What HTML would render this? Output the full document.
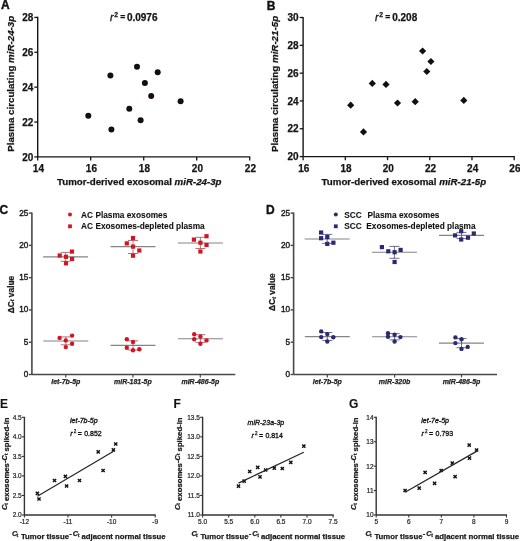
<!DOCTYPE html>
<html><head><meta charset="utf-8"><style>
html,body{margin:0;padding:0;background:#fff;}
svg{display:block;font-family:"Liberation Sans", sans-serif;filter:blur(0.3px);}
</style></head><body>
<svg width="520" height="541" viewBox="0 0 520 541">
<rect width="520" height="541" fill="#fff"/>
<text x="1.00" y="9.40" font-size="12" font-weight="bold" font-style="normal" text-anchor="start" fill="#111" stroke="#111" stroke-width="0.4">A</text>
<line x1="37.70" y1="16.80" x2="37.70" y2="156.90" stroke="#141414" stroke-width="1.4"/>
<line x1="37.70" y1="156.90" x2="250.30" y2="156.90" stroke="#141414" stroke-width="1.4"/>
<line x1="34.30" y1="156.90" x2="37.70" y2="156.90" stroke="#141414" stroke-width="1.3"/>
<text x="33.30" y="160.50" font-size="10" font-weight="bold" font-style="normal" text-anchor="end" fill="#141414" stroke="#141414" stroke-width="0.25">20</text>
<line x1="34.30" y1="122.03" x2="37.70" y2="122.03" stroke="#141414" stroke-width="1.3"/>
<text x="33.30" y="125.62" font-size="10" font-weight="bold" font-style="normal" text-anchor="end" fill="#141414" stroke="#141414" stroke-width="0.25">22</text>
<line x1="34.30" y1="87.15" x2="37.70" y2="87.15" stroke="#141414" stroke-width="1.3"/>
<text x="33.30" y="90.75" font-size="10" font-weight="bold" font-style="normal" text-anchor="end" fill="#141414" stroke="#141414" stroke-width="0.25">24</text>
<line x1="34.30" y1="52.28" x2="37.70" y2="52.28" stroke="#141414" stroke-width="1.3"/>
<text x="33.30" y="55.88" font-size="10" font-weight="bold" font-style="normal" text-anchor="end" fill="#141414" stroke="#141414" stroke-width="0.25">26</text>
<line x1="34.30" y1="17.40" x2="37.70" y2="17.40" stroke="#141414" stroke-width="1.3"/>
<text x="33.30" y="21.00" font-size="10" font-weight="bold" font-style="normal" text-anchor="end" fill="#141414" stroke="#141414" stroke-width="0.25">28</text>
<line x1="37.70" y1="156.90" x2="37.70" y2="160.40" stroke="#141414" stroke-width="1.3"/>
<text x="38.40" y="172.00" font-size="10" font-weight="bold" font-style="normal" text-anchor="middle" fill="#141414" stroke="#141414" stroke-width="0.25">14</text>
<line x1="90.70" y1="156.90" x2="90.70" y2="160.40" stroke="#141414" stroke-width="1.3"/>
<text x="91.40" y="172.00" font-size="10" font-weight="bold" font-style="normal" text-anchor="middle" fill="#141414" stroke="#141414" stroke-width="0.25">16</text>
<line x1="143.70" y1="156.90" x2="143.70" y2="160.40" stroke="#141414" stroke-width="1.3"/>
<text x="144.40" y="172.00" font-size="10" font-weight="bold" font-style="normal" text-anchor="middle" fill="#141414" stroke="#141414" stroke-width="0.25">18</text>
<line x1="196.70" y1="156.90" x2="196.70" y2="160.40" stroke="#141414" stroke-width="1.3"/>
<text x="197.40" y="172.00" font-size="10" font-weight="bold" font-style="normal" text-anchor="middle" fill="#141414" stroke="#141414" stroke-width="0.25">20</text>
<line x1="249.70" y1="156.90" x2="249.70" y2="160.40" stroke="#141414" stroke-width="1.3"/>
<text x="250.40" y="172.00" font-size="10" font-weight="bold" font-style="normal" text-anchor="middle" fill="#141414" stroke="#141414" stroke-width="0.25">22</text>
<text x="57.00" y="185.00" font-size="9.72" font-weight="bold" font-style="normal" text-anchor="start" fill="#141414" stroke="#141414" stroke-width="0.25">Tumor-derived exosomal <tspan font-style="italic">miR-24-3p</tspan></text>
<text x="13.60" y="83.80" font-size="9.75" font-weight="bold" font-style="normal" text-anchor="middle" fill="#141414" transform="rotate(-90 13.60 83.80)" stroke="#141414" stroke-width="0.25">Plasma circulating <tspan font-style="italic">miR-24-3p</tspan></text>
<text x="109.90" y="20.60" font-size="10.5" font-weight="normal" font-style="italic" text-anchor="start" fill="#141414" stroke="#141414" stroke-width="0.3">r</text>
<text x="114.20" y="16.70" font-size="6.8" font-weight="bold" font-style="normal" text-anchor="start" fill="#141414" stroke="#141414" stroke-width="0.25">2</text>
<text x="120.30" y="20.20" font-size="8.6" font-weight="bold" font-style="normal" text-anchor="start" fill="#141414" stroke="#141414" stroke-width="0.25">=</text>
<text x="126.90" y="20.60" font-size="10" font-weight="bold" font-style="normal" text-anchor="start" fill="#141414" stroke="#141414" stroke-width="0.25">0.0976</text>
<circle cx="88.30" cy="115.70" r="3.0" fill="#160d0e"/>
<circle cx="110.40" cy="75.60" r="3.0" fill="#160d0e"/>
<circle cx="111.40" cy="129.60" r="3.0" fill="#160d0e"/>
<circle cx="129.30" cy="108.80" r="3.0" fill="#160d0e"/>
<circle cx="137.00" cy="66.80" r="3.0" fill="#160d0e"/>
<circle cx="140.60" cy="120.20" r="3.0" fill="#160d0e"/>
<circle cx="144.90" cy="83.00" r="3.0" fill="#160d0e"/>
<circle cx="151.20" cy="96.00" r="3.0" fill="#160d0e"/>
<circle cx="157.70" cy="72.20" r="3.0" fill="#160d0e"/>
<circle cx="180.60" cy="101.20" r="3.0" fill="#160d0e"/>
<text x="266.80" y="9.60" font-size="12" font-weight="bold" font-style="normal" text-anchor="start" fill="#111" stroke="#111" stroke-width="0.4">B</text>
<line x1="303.10" y1="16.90" x2="303.10" y2="156.60" stroke="#141414" stroke-width="1.4"/>
<line x1="303.10" y1="156.60" x2="514.80" y2="156.60" stroke="#141414" stroke-width="1.4"/>
<line x1="299.70" y1="156.60" x2="303.10" y2="156.60" stroke="#141414" stroke-width="1.3"/>
<text x="298.70" y="160.20" font-size="10" font-weight="bold" font-style="normal" text-anchor="end" fill="#141414" stroke="#141414" stroke-width="0.25">20</text>
<line x1="299.70" y1="128.78" x2="303.10" y2="128.78" stroke="#141414" stroke-width="1.3"/>
<text x="298.70" y="132.38" font-size="10" font-weight="bold" font-style="normal" text-anchor="end" fill="#141414" stroke="#141414" stroke-width="0.25">22</text>
<line x1="299.70" y1="100.96" x2="303.10" y2="100.96" stroke="#141414" stroke-width="1.3"/>
<text x="298.70" y="104.56" font-size="10" font-weight="bold" font-style="normal" text-anchor="end" fill="#141414" stroke="#141414" stroke-width="0.25">24</text>
<line x1="299.70" y1="73.14" x2="303.10" y2="73.14" stroke="#141414" stroke-width="1.3"/>
<text x="298.70" y="76.74" font-size="10" font-weight="bold" font-style="normal" text-anchor="end" fill="#141414" stroke="#141414" stroke-width="0.25">26</text>
<line x1="299.70" y1="45.32" x2="303.10" y2="45.32" stroke="#141414" stroke-width="1.3"/>
<text x="298.70" y="48.92" font-size="10" font-weight="bold" font-style="normal" text-anchor="end" fill="#141414" stroke="#141414" stroke-width="0.25">28</text>
<line x1="299.70" y1="17.50" x2="303.10" y2="17.50" stroke="#141414" stroke-width="1.3"/>
<text x="298.70" y="21.10" font-size="10" font-weight="bold" font-style="normal" text-anchor="end" fill="#141414" stroke="#141414" stroke-width="0.25">30</text>
<line x1="303.10" y1="156.60" x2="303.10" y2="160.20" stroke="#141414" stroke-width="1.3"/>
<text x="303.80" y="172.00" font-size="10" font-weight="bold" font-style="normal" text-anchor="middle" fill="#141414" stroke="#141414" stroke-width="0.25">16</text>
<line x1="345.32" y1="156.60" x2="345.32" y2="160.20" stroke="#141414" stroke-width="1.3"/>
<text x="346.02" y="172.00" font-size="10" font-weight="bold" font-style="normal" text-anchor="middle" fill="#141414" stroke="#141414" stroke-width="0.25">18</text>
<line x1="387.54" y1="156.60" x2="387.54" y2="160.20" stroke="#141414" stroke-width="1.3"/>
<text x="388.24" y="172.00" font-size="10" font-weight="bold" font-style="normal" text-anchor="middle" fill="#141414" stroke="#141414" stroke-width="0.25">20</text>
<line x1="429.76" y1="156.60" x2="429.76" y2="160.20" stroke="#141414" stroke-width="1.3"/>
<text x="430.46" y="172.00" font-size="10" font-weight="bold" font-style="normal" text-anchor="middle" fill="#141414" stroke="#141414" stroke-width="0.25">22</text>
<line x1="471.98" y1="156.60" x2="471.98" y2="160.20" stroke="#141414" stroke-width="1.3"/>
<text x="472.68" y="172.00" font-size="10" font-weight="bold" font-style="normal" text-anchor="middle" fill="#141414" stroke="#141414" stroke-width="0.25">24</text>
<line x1="514.20" y1="156.60" x2="514.20" y2="160.20" stroke="#141414" stroke-width="1.3"/>
<text x="514.90" y="172.00" font-size="10" font-weight="bold" font-style="normal" text-anchor="middle" fill="#141414" stroke="#141414" stroke-width="0.25">26</text>
<text x="321.60" y="185.00" font-size="9.72" font-weight="bold" font-style="normal" text-anchor="start" fill="#141414" stroke="#141414" stroke-width="0.25">Tumor-derived exosomal <tspan font-style="italic">miR-21-5p</tspan></text>
<text x="277.80" y="83.90" font-size="9.75" font-weight="bold" font-style="normal" text-anchor="middle" fill="#141414" transform="rotate(-90 277.80 83.90)" stroke="#141414" stroke-width="0.25">Plasma circulating <tspan font-style="italic">miR-21-5p</tspan></text>
<text x="374.90" y="20.60" font-size="10.5" font-weight="normal" font-style="italic" text-anchor="start" fill="#141414" stroke="#141414" stroke-width="0.3">r</text>
<text x="379.20" y="16.70" font-size="6.8" font-weight="bold" font-style="normal" text-anchor="start" fill="#141414" stroke="#141414" stroke-width="0.25">2</text>
<text x="385.30" y="20.20" font-size="8.6" font-weight="bold" font-style="normal" text-anchor="start" fill="#141414" stroke="#141414" stroke-width="0.25">=</text>
<text x="392.20" y="20.60" font-size="10" font-weight="bold" font-style="normal" text-anchor="start" fill="#141414" stroke="#141414" stroke-width="0.25">0.208</text>
<path d="M350.70 101.60L354.30 105.20L350.70 108.80L347.10 105.20Z" fill="#111"/>
<path d="M363.50 128.30L367.10 131.90L363.50 135.50L359.90 131.90Z" fill="#111"/>
<path d="M372.30 79.80L375.90 83.40L372.30 87.00L368.70 83.40Z" fill="#111"/>
<path d="M386.00 80.80L389.60 84.40L386.00 88.00L382.40 84.40Z" fill="#111"/>
<path d="M397.50 99.40L401.10 103.00L397.50 106.60L393.90 103.00Z" fill="#111"/>
<path d="M415.20 98.10L418.80 101.70L415.20 105.30L411.60 101.70Z" fill="#111"/>
<path d="M422.60 47.40L426.20 51.00L422.60 54.60L419.00 51.00Z" fill="#111"/>
<path d="M426.80 67.90L430.40 71.50L426.80 75.10L423.20 71.50Z" fill="#111"/>
<path d="M430.90 57.90L434.50 61.50L430.90 65.10L427.30 61.50Z" fill="#111"/>
<path d="M463.80 96.80L467.40 100.40L463.80 104.00L460.20 100.40Z" fill="#111"/>
<text x="-0.50" y="213.90" font-size="12" font-weight="bold" font-style="normal" text-anchor="start" fill="#111" stroke="#111" stroke-width="0.35">C</text>
<line x1="31.90" y1="212.50" x2="31.90" y2="374.50" stroke="#474747" stroke-width="1.6"/>
<line x1="31.90" y1="374.50" x2="235.30" y2="374.50" stroke="#474747" stroke-width="1.6"/>
<line x1="28.90" y1="374.50" x2="31.90" y2="374.50" stroke="#474747" stroke-width="1.4"/>
<text x="28.30" y="377.00" font-size="8.2" font-weight="normal" font-style="normal" text-anchor="end" fill="#1a1a1a" stroke="#1a1a1a" stroke-width="0.4">0</text>
<line x1="28.90" y1="342.22" x2="31.90" y2="342.22" stroke="#474747" stroke-width="1.4"/>
<text x="28.30" y="344.72" font-size="8.2" font-weight="normal" font-style="normal" text-anchor="end" fill="#1a1a1a" stroke="#1a1a1a" stroke-width="0.4">5</text>
<line x1="28.90" y1="309.94" x2="31.90" y2="309.94" stroke="#474747" stroke-width="1.4"/>
<text x="28.30" y="312.44" font-size="8.2" font-weight="normal" font-style="normal" text-anchor="end" fill="#1a1a1a" stroke="#1a1a1a" stroke-width="0.4">10</text>
<line x1="28.90" y1="277.66" x2="31.90" y2="277.66" stroke="#474747" stroke-width="1.4"/>
<text x="28.30" y="280.16" font-size="8.2" font-weight="normal" font-style="normal" text-anchor="end" fill="#1a1a1a" stroke="#1a1a1a" stroke-width="0.4">15</text>
<line x1="28.90" y1="245.38" x2="31.90" y2="245.38" stroke="#474747" stroke-width="1.4"/>
<text x="28.30" y="247.88" font-size="8.2" font-weight="normal" font-style="normal" text-anchor="end" fill="#1a1a1a" stroke="#1a1a1a" stroke-width="0.4">20</text>
<line x1="28.90" y1="213.10" x2="31.90" y2="213.10" stroke="#474747" stroke-width="1.4"/>
<text x="28.30" y="215.60" font-size="8.2" font-weight="normal" font-style="normal" text-anchor="end" fill="#1a1a1a" stroke="#1a1a1a" stroke-width="0.4">25</text>
<line x1="65.80" y1="374.50" x2="65.80" y2="377.40" stroke="#474747" stroke-width="1.2"/>
<text x="65.80" y="384.30" font-size="7" font-weight="bold" font-style="italic" text-anchor="middle" fill="#222" stroke="#222" stroke-width="0.25">let-7b-5p</text>
<line x1="132.90" y1="374.50" x2="132.90" y2="377.40" stroke="#474747" stroke-width="1.2"/>
<text x="132.90" y="384.30" font-size="7" font-weight="bold" font-style="italic" text-anchor="middle" fill="#222" stroke="#222" stroke-width="0.25">miR-181-5p</text>
<line x1="200.30" y1="374.50" x2="200.30" y2="377.40" stroke="#474747" stroke-width="1.2"/>
<text x="200.30" y="384.30" font-size="7" font-weight="bold" font-style="italic" text-anchor="middle" fill="#222" stroke="#222" stroke-width="0.25">miR-486-5p</text>
<text x="13.50" y="294.50" font-size="8.4" font-weight="bold" font-style="normal" text-anchor="middle" fill="#1a1a1a" transform="rotate(-90 13.50 294.50)" stroke="#1a1a1a" stroke-width="0.25">ΔC<tspan font-style="italic" font-size="5.2" dy="0.8">t</tspan><tspan dy="-0.8"> value</tspan></text>
<circle cx="70.00" cy="214.50" r="2.0" fill="#d41420"/>
<rect x="68.10" y="224.40" width="3.8" height="3.8" fill="#d41420"/>
<text x="81.10" y="217.50" font-size="8.3" font-weight="bold" font-style="normal" text-anchor="start" fill="#111" stroke="#111" stroke-width="0.08">AC Plasma exosomes</text>
<text x="81.10" y="229.00" font-size="8.3" font-weight="bold" font-style="normal" text-anchor="start" fill="#111" stroke="#111" stroke-width="0.08">AC Exosomes-depleted plasma</text>
<line x1="43.10" y1="256.90" x2="88.10" y2="256.90" stroke="#848484" stroke-width="1.1"/>
<line x1="65.60" y1="252.40" x2="65.60" y2="261.30" stroke="#a0505a" stroke-width="0.8"/>
<line x1="60.60" y1="252.40" x2="70.60" y2="252.40" stroke="#a0505a" stroke-width="0.8"/>
<line x1="60.60" y1="261.30" x2="70.60" y2="261.30" stroke="#a0505a" stroke-width="0.8"/>
<rect x="57.60" y="253.40" width="4.2" height="4.2" fill="#d41420"/>
<rect x="63.90" y="254.70" width="4.2" height="4.2" fill="#d41420"/>
<rect x="69.90" y="249.50" width="4.2" height="4.2" fill="#d41420"/>
<rect x="70.00" y="256.80" width="4.2" height="4.2" fill="#d41420"/>
<rect x="63.90" y="261.20" width="4.2" height="4.2" fill="#d41420"/>
<line x1="110.50" y1="246.60" x2="155.50" y2="246.60" stroke="#848484" stroke-width="1.1"/>
<line x1="133.00" y1="240.50" x2="133.00" y2="253.50" stroke="#a0505a" stroke-width="0.8"/>
<line x1="128.00" y1="240.50" x2="138.00" y2="240.50" stroke="#a0505a" stroke-width="0.8"/>
<line x1="128.00" y1="253.50" x2="138.00" y2="253.50" stroke="#a0505a" stroke-width="0.8"/>
<rect x="124.70" y="241.30" width="4.2" height="4.2" fill="#d41420"/>
<rect x="130.90" y="235.90" width="4.2" height="4.2" fill="#d41420"/>
<rect x="130.90" y="244.50" width="4.2" height="4.2" fill="#d41420"/>
<rect x="137.20" y="248.40" width="4.2" height="4.2" fill="#d41420"/>
<rect x="130.90" y="253.60" width="4.2" height="4.2" fill="#d41420"/>
<line x1="177.90" y1="243.00" x2="222.90" y2="243.00" stroke="#848484" stroke-width="1.1"/>
<line x1="200.40" y1="237.30" x2="200.40" y2="248.50" stroke="#a0505a" stroke-width="0.8"/>
<line x1="195.40" y1="237.30" x2="205.40" y2="237.30" stroke="#a0505a" stroke-width="0.8"/>
<line x1="195.40" y1="248.50" x2="205.40" y2="248.50" stroke="#a0505a" stroke-width="0.8"/>
<rect x="191.80" y="237.50" width="4.2" height="4.2" fill="#d41420"/>
<rect x="198.30" y="240.60" width="4.2" height="4.2" fill="#d41420"/>
<rect x="204.40" y="234.10" width="4.2" height="4.2" fill="#d41420"/>
<rect x="204.40" y="242.90" width="4.2" height="4.2" fill="#d41420"/>
<rect x="198.30" y="249.40" width="4.2" height="4.2" fill="#d41420"/>
<line x1="43.30" y1="341.00" x2="88.30" y2="341.00" stroke="#848484" stroke-width="1.1"/>
<line x1="65.80" y1="336.90" x2="65.80" y2="344.80" stroke="#a0505a" stroke-width="0.8"/>
<line x1="60.80" y1="336.90" x2="70.80" y2="336.90" stroke="#a0505a" stroke-width="0.8"/>
<line x1="60.80" y1="344.80" x2="70.80" y2="344.80" stroke="#a0505a" stroke-width="0.8"/>
<circle cx="59.60" cy="337.90" r="2.2" fill="#d41420"/>
<circle cx="65.80" cy="340.40" r="2.2" fill="#d41420"/>
<circle cx="72.10" cy="335.60" r="2.2" fill="#d41420"/>
<circle cx="72.10" cy="343.70" r="2.2" fill="#d41420"/>
<circle cx="65.80" cy="347.10" r="2.2" fill="#d41420"/>
<line x1="110.50" y1="345.40" x2="155.50" y2="345.40" stroke="#848484" stroke-width="1.1"/>
<line x1="133.00" y1="340.80" x2="133.00" y2="350.00" stroke="#a0505a" stroke-width="0.8"/>
<line x1="128.00" y1="340.80" x2="138.00" y2="340.80" stroke="#a0505a" stroke-width="0.8"/>
<line x1="128.00" y1="350.00" x2="138.00" y2="350.00" stroke="#a0505a" stroke-width="0.8"/>
<circle cx="126.80" cy="339.20" r="2.2" fill="#d41420"/>
<circle cx="133.00" cy="342.00" r="2.2" fill="#d41420"/>
<circle cx="126.80" cy="347.70" r="2.2" fill="#d41420"/>
<circle cx="133.00" cy="350.30" r="2.2" fill="#d41420"/>
<circle cx="139.30" cy="349.20" r="2.2" fill="#d41420"/>
<line x1="177.90" y1="338.80" x2="222.90" y2="338.80" stroke="#848484" stroke-width="1.1"/>
<line x1="200.40" y1="334.70" x2="200.40" y2="342.40" stroke="#a0505a" stroke-width="0.8"/>
<line x1="195.40" y1="334.70" x2="205.40" y2="334.70" stroke="#a0505a" stroke-width="0.8"/>
<line x1="195.40" y1="342.40" x2="205.40" y2="342.40" stroke="#a0505a" stroke-width="0.8"/>
<circle cx="194.20" cy="334.20" r="2.2" fill="#d41420"/>
<circle cx="200.40" cy="336.50" r="2.2" fill="#d41420"/>
<circle cx="194.20" cy="339.20" r="2.2" fill="#d41420"/>
<circle cx="206.50" cy="340.40" r="2.2" fill="#d41420"/>
<circle cx="200.40" cy="343.80" r="2.2" fill="#d41420"/>
<text x="266.10" y="213.90" font-size="12" font-weight="bold" font-style="normal" text-anchor="start" fill="#111" stroke="#111" stroke-width="0.35">D</text>
<line x1="293.60" y1="212.50" x2="293.60" y2="374.50" stroke="#474747" stroke-width="1.6"/>
<line x1="293.60" y1="374.50" x2="497.00" y2="374.50" stroke="#474747" stroke-width="1.6"/>
<line x1="290.60" y1="374.50" x2="293.60" y2="374.50" stroke="#474747" stroke-width="1.4"/>
<text x="290.00" y="377.00" font-size="8.2" font-weight="normal" font-style="normal" text-anchor="end" fill="#1a1a1a" stroke="#1a1a1a" stroke-width="0.4">0</text>
<line x1="290.60" y1="342.22" x2="293.60" y2="342.22" stroke="#474747" stroke-width="1.4"/>
<text x="290.00" y="344.72" font-size="8.2" font-weight="normal" font-style="normal" text-anchor="end" fill="#1a1a1a" stroke="#1a1a1a" stroke-width="0.4">5</text>
<line x1="290.60" y1="309.94" x2="293.60" y2="309.94" stroke="#474747" stroke-width="1.4"/>
<text x="290.00" y="312.44" font-size="8.2" font-weight="normal" font-style="normal" text-anchor="end" fill="#1a1a1a" stroke="#1a1a1a" stroke-width="0.4">10</text>
<line x1="290.60" y1="277.66" x2="293.60" y2="277.66" stroke="#474747" stroke-width="1.4"/>
<text x="290.00" y="280.16" font-size="8.2" font-weight="normal" font-style="normal" text-anchor="end" fill="#1a1a1a" stroke="#1a1a1a" stroke-width="0.4">15</text>
<line x1="290.60" y1="245.38" x2="293.60" y2="245.38" stroke="#474747" stroke-width="1.4"/>
<text x="290.00" y="247.88" font-size="8.2" font-weight="normal" font-style="normal" text-anchor="end" fill="#1a1a1a" stroke="#1a1a1a" stroke-width="0.4">20</text>
<line x1="290.60" y1="213.10" x2="293.60" y2="213.10" stroke="#474747" stroke-width="1.4"/>
<text x="290.00" y="215.60" font-size="8.2" font-weight="normal" font-style="normal" text-anchor="end" fill="#1a1a1a" stroke="#1a1a1a" stroke-width="0.4">25</text>
<line x1="327.30" y1="374.50" x2="327.30" y2="377.40" stroke="#474747" stroke-width="1.2"/>
<text x="327.30" y="384.30" font-size="7" font-weight="bold" font-style="italic" text-anchor="middle" fill="#222" stroke="#222" stroke-width="0.25">let-7b-5p</text>
<line x1="394.60" y1="374.50" x2="394.60" y2="377.40" stroke="#474747" stroke-width="1.2"/>
<text x="394.60" y="384.30" font-size="7" font-weight="bold" font-style="italic" text-anchor="middle" fill="#222" stroke="#222" stroke-width="0.25">miR-320b</text>
<line x1="461.50" y1="374.50" x2="461.50" y2="377.40" stroke="#474747" stroke-width="1.2"/>
<text x="461.50" y="384.30" font-size="7" font-weight="bold" font-style="italic" text-anchor="middle" fill="#222" stroke="#222" stroke-width="0.25">miR-486-5p</text>
<text x="275.20" y="292.10" font-size="8.4" font-weight="bold" font-style="normal" text-anchor="middle" fill="#1a1a1a" transform="rotate(-90 275.20 292.10)" stroke="#1a1a1a" stroke-width="0.25">ΔC<tspan font-style="italic" font-size="5.2" dy="0.8">t</tspan><tspan dy="-0.8"> value</tspan></text>
<circle cx="335.80" cy="214.50" r="2.0" fill="#2b2972"/>
<rect x="333.90" y="224.40" width="3.8" height="3.8" fill="#2b2972"/>
<text x="344.20" y="217.50" font-size="8.3" font-weight="bold" font-style="normal" text-anchor="start" fill="#111" stroke="#111" stroke-width="0.08">SCC&#160; <tspan dx="1.2">Plasma exosomes</tspan></text>
<text x="344.20" y="229.00" font-size="8.3" font-weight="bold" font-style="normal" text-anchor="start" fill="#111" stroke="#111" stroke-width="0.08">SCC&#160; Exosomes-depleted plasma</text>
<line x1="304.70" y1="239.00" x2="349.70" y2="239.00" stroke="#848484" stroke-width="1.1"/>
<line x1="327.20" y1="234.40" x2="327.20" y2="243.40" stroke="#4a4a70" stroke-width="0.8"/>
<line x1="322.20" y1="234.40" x2="332.20" y2="234.40" stroke="#4a4a70" stroke-width="0.8"/>
<line x1="322.20" y1="243.40" x2="332.20" y2="243.40" stroke="#4a4a70" stroke-width="0.8"/>
<rect x="319.00" y="230.40" width="4.2" height="4.2" fill="#2b2972"/>
<rect x="319.00" y="236.10" width="4.2" height="4.2" fill="#2b2972"/>
<rect x="325.20" y="234.90" width="4.2" height="4.2" fill="#2b2972"/>
<rect x="331.30" y="240.60" width="4.2" height="4.2" fill="#2b2972"/>
<rect x="325.20" y="241.80" width="4.2" height="4.2" fill="#2b2972"/>
<line x1="371.90" y1="252.20" x2="416.90" y2="252.20" stroke="#848484" stroke-width="1.1"/>
<line x1="394.40" y1="246.40" x2="394.40" y2="258.30" stroke="#4a4a70" stroke-width="0.8"/>
<line x1="389.40" y1="246.40" x2="399.40" y2="246.40" stroke="#4a4a70" stroke-width="0.8"/>
<line x1="389.40" y1="258.30" x2="399.40" y2="258.30" stroke="#4a4a70" stroke-width="0.8"/>
<rect x="379.80" y="245.00" width="4.2" height="4.2" fill="#2b2972"/>
<rect x="386.20" y="249.20" width="4.2" height="4.2" fill="#2b2972"/>
<rect x="392.50" y="250.10" width="4.2" height="4.2" fill="#2b2972"/>
<rect x="398.50" y="247.80" width="4.2" height="4.2" fill="#2b2972"/>
<rect x="392.50" y="259.90" width="4.2" height="4.2" fill="#2b2972"/>
<line x1="439.00" y1="235.40" x2="484.00" y2="235.40" stroke="#848484" stroke-width="1.1"/>
<line x1="461.50" y1="232.40" x2="461.50" y2="238.60" stroke="#4a4a70" stroke-width="0.8"/>
<line x1="456.50" y1="232.40" x2="466.50" y2="232.40" stroke="#4a4a70" stroke-width="0.8"/>
<line x1="456.50" y1="238.60" x2="466.50" y2="238.60" stroke="#4a4a70" stroke-width="0.8"/>
<rect x="453.00" y="233.30" width="4.2" height="4.2" fill="#2b2972"/>
<rect x="459.10" y="229.10" width="4.2" height="4.2" fill="#2b2972"/>
<rect x="459.10" y="237.40" width="4.2" height="4.2" fill="#2b2972"/>
<rect x="465.90" y="235.60" width="4.2" height="4.2" fill="#2b2972"/>
<rect x="471.70" y="231.40" width="4.2" height="4.2" fill="#2b2972"/>
<line x1="304.80" y1="336.60" x2="349.80" y2="336.60" stroke="#848484" stroke-width="1.1"/>
<line x1="327.30" y1="332.50" x2="327.30" y2="340.50" stroke="#4a4a70" stroke-width="0.8"/>
<line x1="322.30" y1="332.50" x2="332.30" y2="332.50" stroke="#4a4a70" stroke-width="0.8"/>
<line x1="322.30" y1="340.50" x2="332.30" y2="340.50" stroke="#4a4a70" stroke-width="0.8"/>
<circle cx="321.20" cy="331.40" r="2.2" fill="#2b2972"/>
<circle cx="321.20" cy="337.10" r="2.2" fill="#2b2972"/>
<circle cx="327.30" cy="334.10" r="2.2" fill="#2b2972"/>
<circle cx="333.30" cy="337.20" r="2.2" fill="#2b2972"/>
<circle cx="327.30" cy="341.50" r="2.2" fill="#2b2972"/>
<line x1="372.10" y1="336.80" x2="417.10" y2="336.80" stroke="#848484" stroke-width="1.1"/>
<line x1="394.60" y1="333.60" x2="394.60" y2="339.90" stroke="#4a4a70" stroke-width="0.8"/>
<line x1="389.60" y1="333.60" x2="399.60" y2="333.60" stroke="#4a4a70" stroke-width="0.8"/>
<line x1="389.60" y1="339.90" x2="399.60" y2="339.90" stroke="#4a4a70" stroke-width="0.8"/>
<circle cx="388.00" cy="333.20" r="2.2" fill="#2b2972"/>
<circle cx="388.00" cy="336.80" r="2.2" fill="#2b2972"/>
<circle cx="394.60" cy="334.80" r="2.2" fill="#2b2972"/>
<circle cx="400.40" cy="337.10" r="2.2" fill="#2b2972"/>
<circle cx="394.60" cy="341.50" r="2.2" fill="#2b2972"/>
<line x1="439.00" y1="343.10" x2="484.00" y2="343.10" stroke="#848484" stroke-width="1.1"/>
<line x1="461.50" y1="338.50" x2="461.50" y2="347.70" stroke="#4a4a70" stroke-width="0.8"/>
<line x1="456.50" y1="338.50" x2="466.50" y2="338.50" stroke="#4a4a70" stroke-width="0.8"/>
<line x1="456.50" y1="347.70" x2="466.50" y2="347.70" stroke="#4a4a70" stroke-width="0.8"/>
<circle cx="455.40" cy="337.40" r="2.2" fill="#2b2972"/>
<circle cx="455.40" cy="343.10" r="2.2" fill="#2b2972"/>
<circle cx="461.50" cy="339.20" r="2.2" fill="#2b2972"/>
<circle cx="467.70" cy="346.90" r="2.2" fill="#2b2972"/>
<circle cx="461.50" cy="348.90" r="2.2" fill="#2b2972"/>
<text x="0.10" y="408.20" font-size="12" font-weight="bold" font-style="normal" text-anchor="start" fill="#111" stroke="#111" stroke-width="0.1">E</text>
<line x1="24.40" y1="416.80" x2="24.40" y2="515.00" stroke="#333" stroke-width="1.4"/>
<line x1="24.40" y1="515.00" x2="155.70" y2="515.00" stroke="#333" stroke-width="1.4"/>
<line x1="21.90" y1="515.00" x2="24.40" y2="515.00" stroke="#333" stroke-width="1.1"/>
<text x="21.70" y="517.40" font-size="6.5" font-weight="normal" font-style="normal" text-anchor="end" fill="#222" stroke="#222" stroke-width="0.2">2.0</text>
<line x1="21.90" y1="495.46" x2="24.40" y2="495.46" stroke="#333" stroke-width="1.1"/>
<text x="21.70" y="497.86" font-size="6.5" font-weight="normal" font-style="normal" text-anchor="end" fill="#222" stroke="#222" stroke-width="0.2">2.5</text>
<line x1="21.90" y1="475.92" x2="24.40" y2="475.92" stroke="#333" stroke-width="1.1"/>
<text x="21.70" y="478.32" font-size="6.5" font-weight="normal" font-style="normal" text-anchor="end" fill="#222" stroke="#222" stroke-width="0.2">3.0</text>
<line x1="21.90" y1="456.38" x2="24.40" y2="456.38" stroke="#333" stroke-width="1.1"/>
<text x="21.70" y="458.78" font-size="6.5" font-weight="normal" font-style="normal" text-anchor="end" fill="#222" stroke="#222" stroke-width="0.2">3.5</text>
<line x1="21.90" y1="436.84" x2="24.40" y2="436.84" stroke="#333" stroke-width="1.1"/>
<text x="21.70" y="439.24" font-size="6.5" font-weight="normal" font-style="normal" text-anchor="end" fill="#222" stroke="#222" stroke-width="0.2">4.0</text>
<line x1="21.90" y1="417.30" x2="24.40" y2="417.30" stroke="#333" stroke-width="1.1"/>
<text x="21.70" y="419.70" font-size="6.5" font-weight="normal" font-style="normal" text-anchor="end" fill="#222" stroke="#222" stroke-width="0.2">4.5</text>
<line x1="24.40" y1="515.00" x2="24.40" y2="517.50" stroke="#333" stroke-width="1.1"/>
<text x="24.40" y="523.90" font-size="6.5" font-weight="normal" font-style="normal" text-anchor="middle" fill="#222" stroke="#222" stroke-width="0.2">-12</text>
<line x1="68.00" y1="515.00" x2="68.00" y2="517.50" stroke="#333" stroke-width="1.1"/>
<text x="68.00" y="523.90" font-size="6.5" font-weight="normal" font-style="normal" text-anchor="middle" fill="#222" stroke="#222" stroke-width="0.2">-11</text>
<line x1="111.60" y1="515.00" x2="111.60" y2="517.50" stroke="#333" stroke-width="1.1"/>
<text x="111.60" y="523.90" font-size="6.5" font-weight="normal" font-style="normal" text-anchor="middle" fill="#222" stroke="#222" stroke-width="0.2">-10</text>
<line x1="155.20" y1="515.00" x2="155.20" y2="517.50" stroke="#333" stroke-width="1.1"/>
<text x="155.20" y="523.90" font-size="6.5" font-weight="normal" font-style="normal" text-anchor="middle" fill="#222" stroke="#222" stroke-width="0.2">-9</text>
<path d="M35.80 491.80L39.00 495.00M39.00 491.80L35.80 495.00" stroke="#111" stroke-width="1.45"/>
<path d="M37.40 497.40L40.60 500.60M40.60 497.40L37.40 500.60" stroke="#111" stroke-width="1.45"/>
<path d="M52.90 478.90L56.10 482.10M56.10 478.90L52.90 482.10" stroke="#111" stroke-width="1.45"/>
<path d="M63.80 474.80L67.00 478.00M67.00 474.80L63.80 478.00" stroke="#111" stroke-width="1.45"/>
<path d="M65.00 484.40L68.20 487.60M68.20 484.40L65.00 487.60" stroke="#111" stroke-width="1.45"/>
<path d="M77.90 478.90L81.10 482.10M81.10 478.90L77.90 482.10" stroke="#111" stroke-width="1.45"/>
<path d="M96.60 450.30L99.80 453.50M99.80 450.30L96.60 453.50" stroke="#111" stroke-width="1.45"/>
<path d="M101.50 468.90L104.70 472.10M104.70 468.90L101.50 472.10" stroke="#111" stroke-width="1.45"/>
<path d="M111.80 448.30L115.00 451.50M115.00 448.30L111.80 451.50" stroke="#111" stroke-width="1.45"/>
<path d="M114.10 442.40L117.30 445.60M117.30 442.40L114.10 445.60" stroke="#111" stroke-width="1.45"/>
<line x1="37.40" y1="496.30" x2="113.60" y2="451.20" stroke="#262626" stroke-width="1.25"/>
<text x="70.00" y="422.60" font-size="7" font-weight="normal" font-style="italic" text-anchor="start" fill="#111" stroke="#111" stroke-width="0.32">let-7b-5p</text>
<text x="70.20" y="435.60" font-size="7.2" font-weight="normal" font-style="italic" text-anchor="start" fill="#111" stroke="#111" stroke-width="0.32">r</text>
<text x="73.70" y="432.60" font-size="4.6" font-weight="normal" font-style="normal" text-anchor="start" fill="#111" stroke="#111" stroke-width="0.25">2</text>
<text x="77.70" y="435.60" font-size="7" font-weight="normal" font-style="normal" text-anchor="start" fill="#111" stroke="#111" stroke-width="0.3">=</text>
<text x="84.20" y="435.60" font-size="7" font-weight="normal" font-style="normal" text-anchor="start" fill="#111" stroke="#111" stroke-width="0.32">0.852</text>
<text x="9.20" y="510.00" font-size="7.75" font-weight="bold" font-style="normal" text-anchor="start" fill="#1a1a1a" transform="rotate(-90 9.20 510.00)" stroke="#1a1a1a" stroke-width="0.25"><tspan font-style="italic" font-size="7.4" dy="-2.0">C</tspan><tspan font-size="4.6" dy="0.6">t</tspan><tspan dy="1.4"> exosomes</tspan><tspan dy="-2.0">-</tspan><tspan font-style="italic" font-size="7.4">C</tspan><tspan font-size="4.6" dy="0.6">t</tspan><tspan dy="1.4"> spiked-in</tspan></text>
<text x="12.10" y="535.60" font-size="7.2" font-weight="bold" font-style="italic" text-anchor="start" fill="#1a1a1a" stroke="#1a1a1a" stroke-width="0.25">C</text>
<text x="16.60" y="537.20" font-size="5" font-weight="bold" font-style="normal" text-anchor="start" fill="#1a1a1a" stroke="#1a1a1a" stroke-width="0.25">t</text>
<text x="20.90" y="538.60" font-size="7.75" font-weight="bold" font-style="normal" text-anchor="start" fill="#1a1a1a" stroke="#1a1a1a" stroke-width="0.25">Tumor tissue</text>
<text x="69.30" y="535.50" font-size="7.75" font-weight="bold" font-style="normal" text-anchor="start" fill="#1a1a1a" stroke="#1a1a1a" stroke-width="0.25">-</text>
<text x="72.70" y="535.60" font-size="7.2" font-weight="bold" font-style="italic" text-anchor="start" fill="#1a1a1a" stroke="#1a1a1a" stroke-width="0.25">C</text>
<text x="77.70" y="537.20" font-size="5" font-weight="bold" font-style="normal" text-anchor="start" fill="#1a1a1a" stroke="#1a1a1a" stroke-width="0.25">t</text>
<text x="81.50" y="538.60" font-size="7.75" font-weight="bold" font-style="normal" text-anchor="start" fill="#1a1a1a" stroke="#1a1a1a" stroke-width="0.25">adjacent normal tissue</text>
<text x="173.60" y="408.20" font-size="12" font-weight="bold" font-style="normal" text-anchor="start" fill="#111" stroke="#111" stroke-width="0.1">F</text>
<line x1="202.60" y1="416.80" x2="202.60" y2="515.00" stroke="#333" stroke-width="1.4"/>
<line x1="202.60" y1="515.00" x2="333.60" y2="515.00" stroke="#333" stroke-width="1.4"/>
<line x1="200.10" y1="515.00" x2="202.60" y2="515.00" stroke="#333" stroke-width="1.1"/>
<text x="199.90" y="517.40" font-size="6.5" font-weight="normal" font-style="normal" text-anchor="end" fill="#222" stroke="#222" stroke-width="0.2">11.0</text>
<line x1="200.10" y1="495.46" x2="202.60" y2="495.46" stroke="#333" stroke-width="1.1"/>
<text x="199.90" y="497.86" font-size="6.5" font-weight="normal" font-style="normal" text-anchor="end" fill="#222" stroke="#222" stroke-width="0.2">11.5</text>
<line x1="200.10" y1="475.92" x2="202.60" y2="475.92" stroke="#333" stroke-width="1.1"/>
<text x="199.90" y="478.32" font-size="6.5" font-weight="normal" font-style="normal" text-anchor="end" fill="#222" stroke="#222" stroke-width="0.2">12.0</text>
<line x1="200.10" y1="456.38" x2="202.60" y2="456.38" stroke="#333" stroke-width="1.1"/>
<text x="199.90" y="458.78" font-size="6.5" font-weight="normal" font-style="normal" text-anchor="end" fill="#222" stroke="#222" stroke-width="0.2">12.5</text>
<line x1="200.10" y1="436.84" x2="202.60" y2="436.84" stroke="#333" stroke-width="1.1"/>
<text x="199.90" y="439.24" font-size="6.5" font-weight="normal" font-style="normal" text-anchor="end" fill="#222" stroke="#222" stroke-width="0.2">13.0</text>
<line x1="200.10" y1="417.30" x2="202.60" y2="417.30" stroke="#333" stroke-width="1.1"/>
<text x="199.90" y="419.70" font-size="6.5" font-weight="normal" font-style="normal" text-anchor="end" fill="#222" stroke="#222" stroke-width="0.2">13.5</text>
<line x1="202.60" y1="515.00" x2="202.60" y2="517.50" stroke="#333" stroke-width="1.1"/>
<text x="202.60" y="523.90" font-size="6.5" font-weight="normal" font-style="normal" text-anchor="middle" fill="#222" stroke="#222" stroke-width="0.2">5.0</text>
<line x1="228.70" y1="515.00" x2="228.70" y2="517.50" stroke="#333" stroke-width="1.1"/>
<text x="228.70" y="523.90" font-size="6.5" font-weight="normal" font-style="normal" text-anchor="middle" fill="#222" stroke="#222" stroke-width="0.2">5.5</text>
<line x1="254.80" y1="515.00" x2="254.80" y2="517.50" stroke="#333" stroke-width="1.1"/>
<text x="254.80" y="523.90" font-size="6.5" font-weight="normal" font-style="normal" text-anchor="middle" fill="#222" stroke="#222" stroke-width="0.2">6.0</text>
<line x1="280.90" y1="515.00" x2="280.90" y2="517.50" stroke="#333" stroke-width="1.1"/>
<text x="280.90" y="523.90" font-size="6.5" font-weight="normal" font-style="normal" text-anchor="middle" fill="#222" stroke="#222" stroke-width="0.2">6.5</text>
<line x1="307.00" y1="515.00" x2="307.00" y2="517.50" stroke="#333" stroke-width="1.1"/>
<text x="307.00" y="523.90" font-size="6.5" font-weight="normal" font-style="normal" text-anchor="middle" fill="#222" stroke="#222" stroke-width="0.2">7.0</text>
<line x1="333.10" y1="515.00" x2="333.10" y2="517.50" stroke="#333" stroke-width="1.1"/>
<text x="333.10" y="523.90" font-size="6.5" font-weight="normal" font-style="normal" text-anchor="middle" fill="#222" stroke="#222" stroke-width="0.2">7.5</text>
<path d="M236.90 484.60L240.10 487.80M240.10 484.60L236.90 487.80" stroke="#111" stroke-width="1.45"/>
<path d="M242.60 479.50L245.80 482.70M245.80 479.50L242.60 482.70" stroke="#111" stroke-width="1.45"/>
<path d="M248.10 469.90L251.30 473.10M251.30 469.90L248.10 473.10" stroke="#111" stroke-width="1.45"/>
<path d="M256.10 465.80L259.30 469.00M259.30 465.80L256.10 469.00" stroke="#111" stroke-width="1.45"/>
<path d="M258.40 475.30L261.60 478.50M261.60 475.30L258.40 478.50" stroke="#111" stroke-width="1.45"/>
<path d="M264.10 468.40L267.30 471.60M267.30 468.40L264.10 471.60" stroke="#111" stroke-width="1.45"/>
<path d="M272.70 466.60L275.90 469.80M275.90 466.60L272.70 469.80" stroke="#111" stroke-width="1.45"/>
<path d="M280.70 466.90L283.90 470.10M283.90 466.90L280.70 470.10" stroke="#111" stroke-width="1.45"/>
<path d="M289.20 460.70L292.40 463.90M292.40 460.70L289.20 463.90" stroke="#111" stroke-width="1.45"/>
<path d="M302.20 444.60L305.40 447.80M305.40 444.60L302.20 447.80" stroke="#111" stroke-width="1.45"/>
<line x1="238.50" y1="483.10" x2="303.80" y2="452.30" stroke="#262626" stroke-width="1.25"/>
<text x="247.60" y="424.50" font-size="7" font-weight="normal" font-style="italic" text-anchor="start" fill="#111" stroke="#111" stroke-width="0.32">miR-23a-3p</text>
<text x="251.40" y="437.50" font-size="7.2" font-weight="normal" font-style="italic" text-anchor="start" fill="#111" stroke="#111" stroke-width="0.32">r</text>
<text x="254.90" y="434.50" font-size="4.6" font-weight="normal" font-style="normal" text-anchor="start" fill="#111" stroke="#111" stroke-width="0.25">2</text>
<text x="258.90" y="437.50" font-size="7" font-weight="normal" font-style="normal" text-anchor="start" fill="#111" stroke="#111" stroke-width="0.3">=</text>
<text x="265.40" y="437.50" font-size="7" font-weight="normal" font-style="normal" text-anchor="start" fill="#111" stroke="#111" stroke-width="0.32">0.814</text>
<text x="181.60" y="510.00" font-size="7.75" font-weight="bold" font-style="normal" text-anchor="start" fill="#1a1a1a" transform="rotate(-90 181.60 510.00)" stroke="#1a1a1a" stroke-width="0.25"><tspan font-style="italic" font-size="7.4" dy="-2.0">C</tspan><tspan font-size="4.6" dy="0.6">t</tspan><tspan dy="1.4"> exosomes</tspan><tspan dy="-2.0">-</tspan><tspan font-style="italic" font-size="7.4">C</tspan><tspan font-size="4.6" dy="0.6">t</tspan><tspan dy="1.4"> spiked-in</tspan></text>
<text x="191.60" y="535.60" font-size="7.2" font-weight="bold" font-style="italic" text-anchor="start" fill="#1a1a1a" stroke="#1a1a1a" stroke-width="0.25">C</text>
<text x="196.10" y="537.20" font-size="5" font-weight="bold" font-style="normal" text-anchor="start" fill="#1a1a1a" stroke="#1a1a1a" stroke-width="0.25">t</text>
<text x="200.40" y="538.60" font-size="7.75" font-weight="bold" font-style="normal" text-anchor="start" fill="#1a1a1a" stroke="#1a1a1a" stroke-width="0.25">Tumor tissue</text>
<text x="248.80" y="535.50" font-size="7.75" font-weight="bold" font-style="normal" text-anchor="start" fill="#1a1a1a" stroke="#1a1a1a" stroke-width="0.25">-</text>
<text x="252.20" y="535.60" font-size="7.2" font-weight="bold" font-style="italic" text-anchor="start" fill="#1a1a1a" stroke="#1a1a1a" stroke-width="0.25">C</text>
<text x="257.20" y="537.20" font-size="5" font-weight="bold" font-style="normal" text-anchor="start" fill="#1a1a1a" stroke="#1a1a1a" stroke-width="0.25">t</text>
<text x="261.00" y="538.60" font-size="7.75" font-weight="bold" font-style="normal" text-anchor="start" fill="#1a1a1a" stroke="#1a1a1a" stroke-width="0.25">adjacent normal tissue</text>
<text x="348.90" y="408.20" font-size="12" font-weight="bold" font-style="normal" text-anchor="start" fill="#111" stroke="#111" stroke-width="0.1">G</text>
<line x1="376.20" y1="416.80" x2="376.20" y2="515.00" stroke="#333" stroke-width="1.4"/>
<line x1="376.20" y1="515.00" x2="507.00" y2="515.00" stroke="#333" stroke-width="1.4"/>
<line x1="373.70" y1="515.00" x2="376.20" y2="515.00" stroke="#333" stroke-width="1.1"/>
<text x="373.50" y="517.40" font-size="6.5" font-weight="normal" font-style="normal" text-anchor="end" fill="#222" stroke="#222" stroke-width="0.2">10</text>
<line x1="373.70" y1="490.57" x2="376.20" y2="490.57" stroke="#333" stroke-width="1.1"/>
<text x="373.50" y="492.97" font-size="6.5" font-weight="normal" font-style="normal" text-anchor="end" fill="#222" stroke="#222" stroke-width="0.2">11</text>
<line x1="373.70" y1="466.15" x2="376.20" y2="466.15" stroke="#333" stroke-width="1.1"/>
<text x="373.50" y="468.55" font-size="6.5" font-weight="normal" font-style="normal" text-anchor="end" fill="#222" stroke="#222" stroke-width="0.2">12</text>
<line x1="373.70" y1="441.73" x2="376.20" y2="441.73" stroke="#333" stroke-width="1.1"/>
<text x="373.50" y="444.12" font-size="6.5" font-weight="normal" font-style="normal" text-anchor="end" fill="#222" stroke="#222" stroke-width="0.2">13</text>
<line x1="373.70" y1="417.30" x2="376.20" y2="417.30" stroke="#333" stroke-width="1.1"/>
<text x="373.50" y="419.70" font-size="6.5" font-weight="normal" font-style="normal" text-anchor="end" fill="#222" stroke="#222" stroke-width="0.2">14</text>
<line x1="376.20" y1="515.00" x2="376.20" y2="517.50" stroke="#333" stroke-width="1.1"/>
<text x="376.20" y="523.90" font-size="6.5" font-weight="normal" font-style="normal" text-anchor="middle" fill="#222" stroke="#222" stroke-width="0.2">5</text>
<line x1="408.77" y1="515.00" x2="408.77" y2="517.50" stroke="#333" stroke-width="1.1"/>
<text x="408.77" y="523.90" font-size="6.5" font-weight="normal" font-style="normal" text-anchor="middle" fill="#222" stroke="#222" stroke-width="0.2">6</text>
<line x1="441.35" y1="515.00" x2="441.35" y2="517.50" stroke="#333" stroke-width="1.1"/>
<text x="441.35" y="523.90" font-size="6.5" font-weight="normal" font-style="normal" text-anchor="middle" fill="#222" stroke="#222" stroke-width="0.2">7</text>
<line x1="473.93" y1="515.00" x2="473.93" y2="517.50" stroke="#333" stroke-width="1.1"/>
<text x="473.93" y="523.90" font-size="6.5" font-weight="normal" font-style="normal" text-anchor="middle" fill="#222" stroke="#222" stroke-width="0.2">8</text>
<line x1="506.50" y1="515.00" x2="506.50" y2="517.50" stroke="#333" stroke-width="1.1"/>
<text x="506.50" y="523.90" font-size="6.5" font-weight="normal" font-style="normal" text-anchor="middle" fill="#222" stroke="#222" stroke-width="0.2">9</text>
<path d="M403.50 488.90L406.70 492.10M406.70 488.90L403.50 492.10" stroke="#111" stroke-width="1.45"/>
<path d="M417.60 486.60L420.80 489.80M420.80 486.60L417.60 489.80" stroke="#111" stroke-width="1.45"/>
<path d="M423.50 470.70L426.70 473.90M426.70 470.70L423.50 473.90" stroke="#111" stroke-width="1.45"/>
<path d="M433.00 481.80L436.20 485.00M436.20 481.80L433.00 485.00" stroke="#111" stroke-width="1.45"/>
<path d="M439.60 468.90L442.80 472.10M442.80 468.90L439.60 472.10" stroke="#111" stroke-width="1.45"/>
<path d="M450.70 461.50L453.90 464.70M453.90 461.50L450.70 464.70" stroke="#111" stroke-width="1.45"/>
<path d="M453.50 475.00L456.70 478.20M456.70 475.00L453.50 478.20" stroke="#111" stroke-width="1.45"/>
<path d="M467.60 443.50L470.80 446.70M470.80 443.50L467.60 446.70" stroke="#111" stroke-width="1.45"/>
<path d="M467.90 456.60L471.10 459.80M471.10 456.60L467.90 459.80" stroke="#111" stroke-width="1.45"/>
<path d="M475.00 448.40L478.20 451.60M478.20 448.40L475.00 451.60" stroke="#111" stroke-width="1.45"/>
<line x1="405.10" y1="492.30" x2="476.90" y2="451.10" stroke="#262626" stroke-width="1.25"/>
<text x="421.30" y="422.60" font-size="7" font-weight="normal" font-style="italic" text-anchor="start" fill="#111" stroke="#111" stroke-width="0.32">let-7e-5p</text>
<text x="421.60" y="435.60" font-size="7.2" font-weight="normal" font-style="italic" text-anchor="start" fill="#111" stroke="#111" stroke-width="0.32">r</text>
<text x="425.10" y="432.60" font-size="4.6" font-weight="normal" font-style="normal" text-anchor="start" fill="#111" stroke="#111" stroke-width="0.25">2</text>
<text x="429.10" y="435.60" font-size="7" font-weight="normal" font-style="normal" text-anchor="start" fill="#111" stroke="#111" stroke-width="0.3">=</text>
<text x="435.60" y="435.60" font-size="7" font-weight="normal" font-style="normal" text-anchor="start" fill="#111" stroke="#111" stroke-width="0.32">0.793</text>
<text x="358.40" y="510.00" font-size="7.75" font-weight="bold" font-style="normal" text-anchor="start" fill="#1a1a1a" transform="rotate(-90 358.40 510.00)" stroke="#1a1a1a" stroke-width="0.25"><tspan font-style="italic" font-size="7.4" dy="-2.0">C</tspan><tspan font-size="4.6" dy="0.6">t</tspan><tspan dy="1.4"> exosomes</tspan><tspan dy="-2.0">-</tspan><tspan font-style="italic" font-size="7.4">C</tspan><tspan font-size="4.6" dy="0.6">t</tspan><tspan dy="1.4"> spiked-in</tspan></text>
<text x="365.60" y="535.60" font-size="7.2" font-weight="bold" font-style="italic" text-anchor="start" fill="#1a1a1a" stroke="#1a1a1a" stroke-width="0.25">C</text>
<text x="370.10" y="537.20" font-size="5" font-weight="bold" font-style="normal" text-anchor="start" fill="#1a1a1a" stroke="#1a1a1a" stroke-width="0.25">t</text>
<text x="374.40" y="538.60" font-size="7.75" font-weight="bold" font-style="normal" text-anchor="start" fill="#1a1a1a" stroke="#1a1a1a" stroke-width="0.25">Tumor tissue</text>
<text x="422.80" y="535.50" font-size="7.75" font-weight="bold" font-style="normal" text-anchor="start" fill="#1a1a1a" stroke="#1a1a1a" stroke-width="0.25">-</text>
<text x="426.20" y="535.60" font-size="7.2" font-weight="bold" font-style="italic" text-anchor="start" fill="#1a1a1a" stroke="#1a1a1a" stroke-width="0.25">C</text>
<text x="431.20" y="537.20" font-size="5" font-weight="bold" font-style="normal" text-anchor="start" fill="#1a1a1a" stroke="#1a1a1a" stroke-width="0.25">t</text>
<text x="435.00" y="538.60" font-size="7.75" font-weight="bold" font-style="normal" text-anchor="start" fill="#1a1a1a" stroke="#1a1a1a" stroke-width="0.25">adjacent normal tissue</text>
</svg>
</body></html>
